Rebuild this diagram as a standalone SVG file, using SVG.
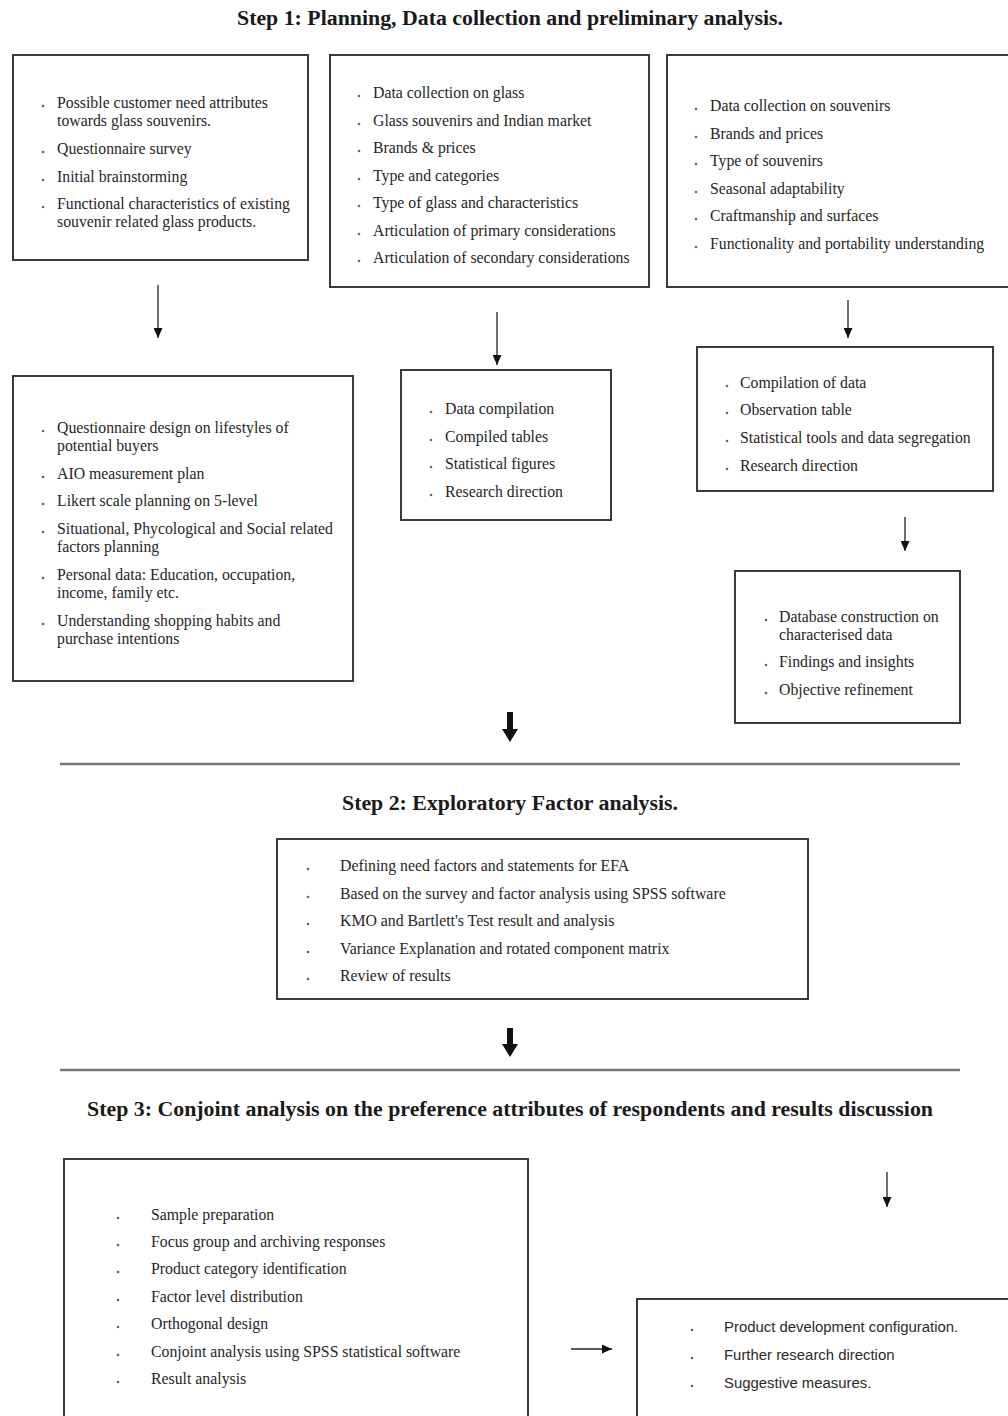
<svg xmlns="http://www.w3.org/2000/svg" width="1008" height="1416" viewBox="0 0 1008 1416">
<defs>
<style>
.box{fill:#fff;stroke:#3a3a3a;stroke-width:2}
.t{font-family:"Liberation Serif","Times New Roman",serif;font-size:15.8px;fill:#262626}
.s{font-family:"Liberation Sans",Arial,sans-serif;font-size:14.9px;fill:#2a2a2a}
.h{font-family:"Liberation Serif","Times New Roman",serif;font-size:20px;font-weight:bold;fill:#1a1a1a;text-anchor:middle}
.b{fill:#666}
.sep{stroke:#777;stroke-width:2.5}
.ln{stroke:#222;stroke-width:1.3;fill:none}
.thick{fill:#111}
</style>
<marker id="ah" viewBox="0 0 10 10" refX="10" refY="5" markerWidth="10" markerHeight="9" markerUnits="userSpaceOnUse" orient="auto" preserveAspectRatio="none">
<path d="M0,0 L10,5 L0,10 Z" fill="#111"/>
</marker>
</defs>
<rect width="1008" height="1416" fill="#fff"/>

<text class="h" x="510" y="25" textLength="546" lengthAdjust="spacingAndGlyphs">Step 1: Planning, Data collection and preliminary analysis.</text>

<g id="boxA">
<rect class="box" x="13" y="55" width="295" height="205"/>
<circle class="b" cx="43" cy="106" r="1.3"/><text class="t" x="57" y="108">Possible customer need attributes</text>
<text class="t" x="57" y="126">towards glass souvenirs.</text>
<circle class="b" cx="43" cy="152" r="1.3"/><text class="t" x="57" y="154">Questionnaire survey</text>
<circle class="b" cx="43" cy="180" r="1.3"/><text class="t" x="57" y="182">Initial brainstorming</text>
<circle class="b" cx="43" cy="207" r="1.3"/><text class="t" x="57" y="209">Functional characteristics of existing</text>
<text class="t" x="57" y="227">souvenir related glass products.</text>
</g>

<g id="boxB">
<rect class="box" x="330" y="55" width="319" height="232"/>
<circle class="b" cx="359" cy="96" r="1.3"/><text class="t" x="373" y="98">Data collection on glass</text>
<circle class="b" cx="359" cy="124" r="1.3"/><text class="t" x="373" y="126">Glass souvenirs and Indian market</text>
<circle class="b" cx="359" cy="151" r="1.3"/><text class="t" x="373" y="153">Brands &amp; prices</text>
<circle class="b" cx="359" cy="179" r="1.3"/><text class="t" x="373" y="181">Type and categories</text>
<circle class="b" cx="359" cy="206" r="1.3"/><text class="t" x="373" y="208">Type of glass and characteristics</text>
<circle class="b" cx="359" cy="234" r="1.3"/><text class="t" x="373" y="236">Articulation of primary considerations</text>
<circle class="b" cx="359" cy="261" r="1.3"/><text class="t" x="373" y="263">Articulation of secondary considerations</text>
</g>

<g id="boxC">
<rect class="box" x="667" y="55" width="345" height="232"/>
<circle class="b" cx="696" cy="109" r="1.3"/><text class="t" x="710" y="111">Data collection on souvenirs</text>
<circle class="b" cx="696" cy="137" r="1.3"/><text class="t" x="710" y="139">Brands and prices</text>
<circle class="b" cx="696" cy="164" r="1.3"/><text class="t" x="710" y="166">Type of souvenirs</text>
<circle class="b" cx="696" cy="192" r="1.3"/><text class="t" x="710" y="194">Seasonal adaptability</text>
<circle class="b" cx="696" cy="219" r="1.3"/><text class="t" x="710" y="221">Craftmanship and surfaces</text>
<circle class="b" cx="696" cy="247" r="1.3"/><text class="t" x="710" y="249">Functionality and portability understanding</text>
</g>

<g id="boxG">
<rect class="box" x="13" y="376" width="340" height="305"/>
<circle class="b" cx="43" cy="431" r="1.3"/><text class="t" x="57" y="433">Questionnaire design on lifestyles of</text>
<text class="t" x="57" y="451">potential buyers</text>
<circle class="b" cx="43" cy="477" r="1.3"/><text class="t" x="57" y="479">AIO measurement plan</text>
<circle class="b" cx="43" cy="504" r="1.3"/><text class="t" x="57" y="506">Likert scale planning on 5-level</text>
<circle class="b" cx="43" cy="532" r="1.3"/><text class="t" x="57" y="534">Situational, Phycological and Social related</text>
<text class="t" x="57" y="552">factors planning</text>
<circle class="b" cx="43" cy="578" r="1.3"/><text class="t" x="57" y="580">Personal data: Education, occupation,</text>
<text class="t" x="57" y="598">income, family etc.</text>
<circle class="b" cx="43" cy="624" r="1.3"/><text class="t" x="57" y="626">Understanding shopping habits and</text>
<text class="t" x="57" y="644">purchase intentions</text>
</g>

<g id="boxD">
<rect class="box" x="401" y="370" width="210" height="150"/>
<circle class="b" cx="431" cy="412" r="1.3"/><text class="t" x="445" y="414">Data compilation</text>
<circle class="b" cx="431" cy="440" r="1.3"/><text class="t" x="445" y="442">Compiled tables</text>
<circle class="b" cx="431" cy="467" r="1.3"/><text class="t" x="445" y="469">Statistical figures</text>
<circle class="b" cx="431" cy="495" r="1.3"/><text class="t" x="445" y="497">Research direction</text>
</g>

<g id="boxE">
<rect class="box" x="697" y="347" width="296" height="144"/>
<circle class="b" cx="727" cy="386" r="1.3"/><text class="t" x="740" y="388">Compilation of data</text>
<circle class="b" cx="727" cy="413" r="1.3"/><text class="t" x="740" y="415">Observation table</text>
<circle class="b" cx="727" cy="441" r="1.3"/><text class="t" x="740" y="443">Statistical tools and data segregation</text>
<circle class="b" cx="727" cy="469" r="1.3"/><text class="t" x="740" y="471">Research direction</text>
</g>

<g id="boxF">
<rect class="box" x="735" y="571" width="225" height="152"/>
<circle class="b" cx="766" cy="620" r="1.3"/><text class="t" x="779" y="622">Database construction on</text>
<text class="t" x="779" y="640">characterised data</text>
<circle class="b" cx="766" cy="665" r="1.3"/><text class="t" x="779" y="667">Findings and insights</text>
<circle class="b" cx="766" cy="693" r="1.3"/><text class="t" x="779" y="695">Objective refinement</text>
</g>

<line class="sep" x1="60" y1="764" x2="960" y2="764"/>
<text class="h" x="510" y="810" textLength="336" lengthAdjust="spacingAndGlyphs">Step 2: Exploratory Factor analysis.</text>

<g id="boxH">
<rect class="box" x="277" y="839" width="531" height="160"/>
<circle class="b" cx="308" cy="869" r="1.3"/><text class="t" x="340" y="871">Defining need factors and statements for EFA</text>
<circle class="b" cx="308" cy="897" r="1.3"/><text class="t" x="340" y="899">Based on the survey and factor analysis using SPSS software</text>
<circle class="b" cx="308" cy="924" r="1.3"/><text class="t" x="340" y="926">KMO and Bartlett's Test result and analysis</text>
<circle class="b" cx="308" cy="952" r="1.3"/><text class="t" x="340" y="954">Variance Explanation and rotated component matrix</text>
<circle class="b" cx="308" cy="979" r="1.3"/><text class="t" x="340" y="981">Review of results</text>
</g>

<line class="sep" x1="60" y1="1070" x2="960" y2="1070"/>
<text class="h" x="510" y="1116" textLength="846" lengthAdjust="spacingAndGlyphs">Step 3: Conjoint analysis on the preference attributes of respondents and results discussion</text>

<g id="boxI">
<rect class="box" x="64" y="1159" width="464" height="270"/>
<circle class="b" cx="118" cy="1218" r="1.3"/><text class="t" x="151" y="1220">Sample preparation</text>
<circle class="b" cx="118" cy="1245" r="1.3"/><text class="t" x="151" y="1247">Focus group and archiving responses</text>
<circle class="b" cx="118" cy="1272" r="1.3"/><text class="t" x="151" y="1274">Product category identification</text>
<circle class="b" cx="118" cy="1300" r="1.3"/><text class="t" x="151" y="1302">Factor level distribution</text>
<circle class="b" cx="118" cy="1327" r="1.3"/><text class="t" x="151" y="1329">Orthogonal design</text>
<circle class="b" cx="118" cy="1355" r="1.3"/><text class="t" x="151" y="1357">Conjoint analysis using SPSS statistical software</text>
<circle class="b" cx="118" cy="1382" r="1.3"/><text class="t" x="151" y="1384">Result analysis</text>
</g>

<g id="boxJ">
<rect class="box" x="637" y="1299" width="380" height="130"/>
<circle class="b" cx="692" cy="1330" r="1.3"/><text class="s" x="724" y="1332">Product development configuration.</text>
<circle class="b" cx="692" cy="1358" r="1.3"/><text class="s" x="724" y="1360">Further research direction</text>
<circle class="b" cx="692" cy="1386" r="1.3"/><text class="s" x="724" y="1388">Suggestive measures.</text>
</g>

<g id="connectors">
<line class="ln" x1="158" y1="285" x2="158" y2="338" marker-end="url(#ah)"/>
<line class="ln" x1="497" y1="312" x2="497" y2="365" marker-end="url(#ah)"/>
<line class="ln" x1="848" y1="300" x2="848" y2="338" marker-end="url(#ah)"/>
<line class="ln" x1="905" y1="517" x2="905" y2="551" marker-end="url(#ah)"/>
<line class="ln" x1="887" y1="1172" x2="887" y2="1207" marker-end="url(#ah)"/>
<line class="ln" x1="571" y1="1349" x2="612" y2="1349" marker-end="url(#ah)"/>
<polygon class="thick" points="507,712 513,712 513,729 518,729 510,742 502,729 507,729"/>
<polygon class="thick" points="507,1028 513,1028 513,1044 518,1044 510,1057 502,1044 507,1044"/>
</g>
</svg>
